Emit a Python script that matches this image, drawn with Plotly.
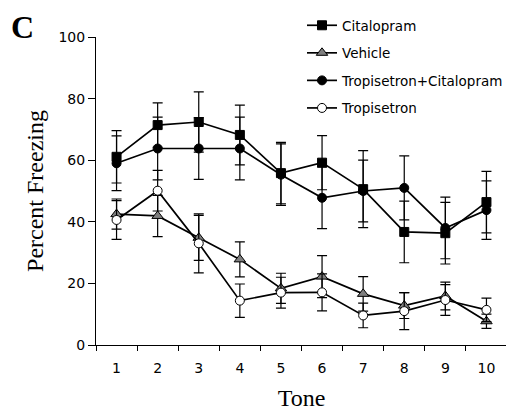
import plotly.graph_objects as go

tones = ["1", "2", "3", "4", "5", "6", "7", "8", "9", "10"]

citalopram = [61.1, 71.4, 72.4, 68.2, 55.8, 59.2, 50.6, 36.7, 36.3, 46.4]
citalopram_err = [8.5, 7.2, 9.8, 9.7, 10.0, 8.8, 12.5, 10.0, 10.0, 10.0]

vehicle = [42.5, 41.9, 34.8, 27.8, 18.4, 22.2, 16.6, 12.8, 15.9, 7.7]
vehicle_err = [4.9, 6.7, 7.3, 5.7, 4.9, 6.8, 5.6, 4.2, 4.5, 2.3]

trop_cit = [59.0, 63.8, 63.8, 63.8, 55.3, 47.8, 50.0, 51.0, 38.0, 43.8]
trop_cit_err = [8.9, 10.2, 10.0, 10.2, 10.0, 10.0, 10.0, 10.4, 10.0, 9.5]

tropisetron = [40.6, 50.1, 33.0, 14.4, 17.0, 17.1, 9.6, 11.0, 14.6, 11.4]
tropisetron_err = [6.3, 6.6, 9.6, 5.4, 5.0, 6.0, 4.0, 6.0, 5.0, 3.8]

y_ticks = [0, 20, 40, 60, 80, 100]

series = [
    ("Citalopram", citalopram, citalopram_err, "square", "black", 9),
    ("Vehicle", vehicle, vehicle_err, "triangle-up", "#7f7f7f", 10),
    ("Tropisetron+Citalopram", trop_cit, trop_cit_err, "circle", "black", 9),
    ("Tropisetron", tropisetron, tropisetron_err, "circle", "white", 9),
]

fig = go.Figure()
for i, (name, vals, errs, sym, fill, size) in enumerate(series):
    fig.add_trace(go.Scatter(
        x=tones, y=vals, name=name, mode="lines+markers",
        legendgroup=f"g{i}",
        line=dict(color="black", width=1.7),
        marker=dict(symbol=sym, size=size, color=fill,
                    line=dict(color="black", width=1)),
        error_y=dict(type="data", array=errs, visible=True,
                     color="black", thickness=1.2, width=5),
    ))

font_sans = "DejaVu Sans, Verdana, sans-serif"
font_serif = "Liberation Serif, Times New Roman, serif"

# page body adds an 8px offset; margins compensate for it
fig.update_layout(
    width=514, height=413,
    margin=dict(l=88, r=15, t=29, b=76, autoexpand=False),
    paper_bgcolor="white", plot_bgcolor="white",
    font=dict(family=font_sans, size=14, color="black"),
    showlegend=True,
    legend=dict(x=294 / 514, y=1 - 2 / 413, xref="container", yref="container",
                xanchor="left", yanchor="top",
                bgcolor="rgba(0,0,0,0)", tracegroupgap=7,
                font=dict(family=font_sans, size=13.5, color="black")),
    xaxis=dict(type="category", range=[-0.5, 9.5], tickson="boundaries",
               showline=True, linecolor="black", linewidth=1,
               ticks="outside", ticklen=5, tickcolor="black",
               ticklabelstandoff=10,
               showgrid=False, zeroline=False,
               title=dict(text="Tone", font=dict(family=font_serif, size=24), standoff=14),
               tickfont=dict(family=font_sans, size=14)),
    yaxis=dict(range=[0, 100], tickvals=y_ticks,
               showline=True, linecolor="black", linewidth=1,
               ticks="outside", ticklen=7, tickcolor="black",
               showgrid=False, zeroline=False,
               title=dict(text="Percent Freezing", font=dict(family=font_serif, size=24), standoff=8),
               tickfont=dict(family=font_sans, size=14)),
    annotations=[dict(text="<b>C</b>", x=(1 - 88) / 411, y=1 + (29 + 1) / 308,
                      xref="paper", yref="paper",
                      showarrow=False, font=dict(family=font_serif, size=32),
                      xanchor="left", yanchor="top")],
)

fig.write_html("out.html")
